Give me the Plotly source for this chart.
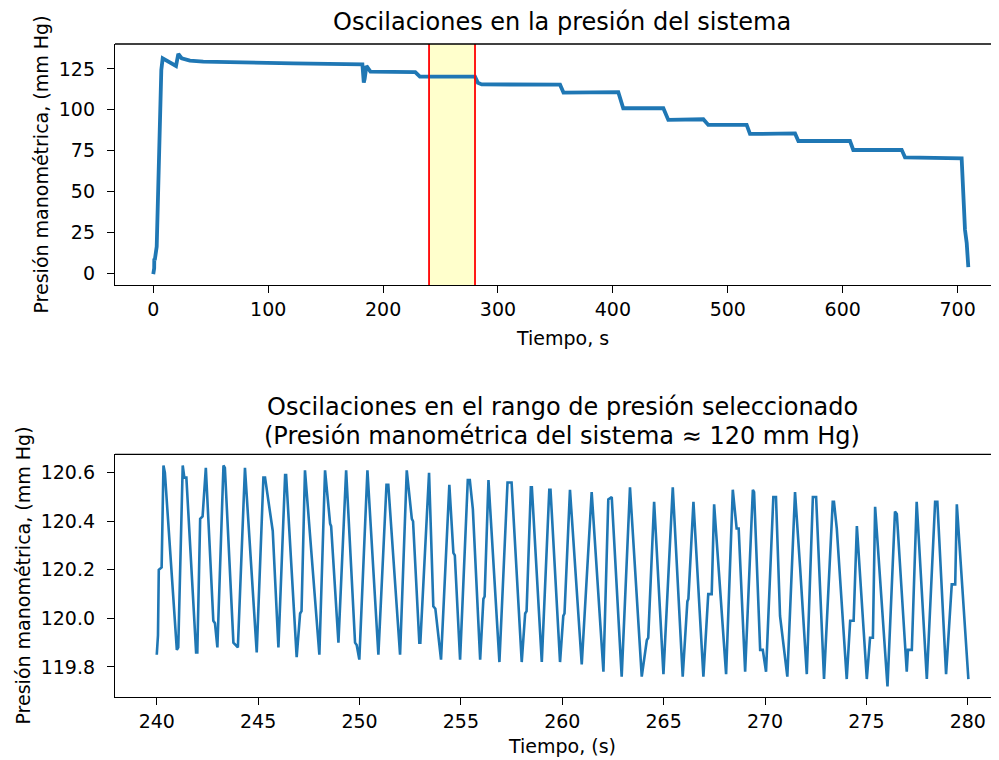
import plotly.graph_objects as go

# ---------------- top panel data: whole recording ----------------
sys_time = [0.0, 0.8, 0.9, 1.3, 3.0, 5.0, 5.8, 6.7, 7.0, 8.2,
            16.0, 19.8, 21.8, 24.7, 31.9, 43.5, 121.8, 180.0,
            182.0, 183.2, 184.0, 185.5, 187.0, 189.0, 228.0, 232.0,
            280.0, 282.5, 285.8, 354.0, 357.0, 404.7, 409.0, 443.9,
            448.2, 478.7, 483.0, 516.4, 519.3, 558.5, 561.4, 606.3,
            609.2, 651.3, 654.2, 703.5, 706.4, 707.9, 709.3]
sys_pres = [-0.5, 3.0, 9.0, 8.0, 16.3, 73.4, 97.9, 114.1, 124.3, 131.5,
            128.4, 126.8, 134.1, 131.5, 130.0, 129.4, 128.4, 128.0,
            127.8, 116.6, 119.0, 126.8, 125.0, 123.3, 123.0, 120.2,
            120.2, 116.5, 115.5, 115.3, 110.5, 110.8, 100.9, 100.9,
            93.8, 94.2, 90.7, 90.8, 85.2, 85.5, 80.9, 81.0,
            75.4, 75.5, 70.9, 70.3, 26.5, 18.5, 3.7]

# ---------------- bottom panel data: 240-280 s window ----------------
osc_time = [
    240.00, 240.06, 240.10, 240.24, 240.33, 240.40, 240.99, 241.06,
    241.28, 241.36, 241.46, 241.94, 242.00, 242.14, 242.26, 242.42,
    242.79, 242.87, 242.99, 243.29, 243.36, 243.78, 244.00, 244.35,
    244.93, 245.26, 245.34, 245.67, 245.72, 246.00, 246.33, 246.38,
    246.90, 247.07, 247.14, 247.31, 248.02, 248.30, 248.55, 248.60,
    248.96, 249.34, 249.78, 249.86, 249.99, 250.39, 250.93, 251.33,
    251.42, 252.00, 252.33, 252.58, 252.64, 252.95, 253.00, 253.43,
    253.64, 253.74, 254.02, 254.43, 254.63, 254.70, 254.96, 255.34,
    255.44, 255.59, 255.95, 256.11, 256.17, 256.36, 256.90, 257.30,
    257.50, 258.00, 258.17, 258.24, 258.45, 258.50, 258.99, 259.36,
    259.42, 259.89, 260.05, 260.11, 260.38, 260.96, 261.29, 261.45,
    262.03, 262.27, 262.44, 262.93, 263.34, 263.92, 264.17, 264.24,
    264.53, 264.99, 265.45, 265.94, 266.17, 266.22, 266.47, 266.96,
    267.20, 267.37, 267.49, 268.08, 268.41, 268.60, 268.70, 269.02,
    269.40, 269.46, 269.76, 269.89, 270.05, 270.41, 270.54, 270.74,
    271.10, 271.48, 271.73, 272.06, 272.36, 272.52, 272.91, 273.34,
    273.40, 273.54, 274.03, 274.20, 274.37, 274.53, 275.02, 275.18,
    275.32, 275.43, 276.04, 276.41, 276.50, 276.99, 277.05, 277.24,
    277.48, 277.98, 278.39, 278.50, 278.93, 279.21, 279.38, 279.46,
    280.03]
osc_pres = [
    119.85, 119.93, 120.20, 120.21, 120.63, 120.60, 119.87, 119.88,
    120.63, 120.58, 120.58, 119.86, 119.86, 120.41, 120.42, 120.62,
    119.99, 119.98, 119.88, 120.63, 120.62, 119.90, 119.88, 120.62,
    119.86, 120.58, 120.58, 120.37, 120.36, 119.88, 120.59, 120.59,
    119.84, 120.02, 120.03, 120.61, 119.85, 120.61, 120.39, 120.38,
    119.90, 120.61, 119.90, 119.89, 119.83, 120.61, 119.85, 120.55,
    120.55, 119.85, 120.61, 120.41, 120.40, 119.90, 119.90, 120.60,
    120.05, 120.04, 119.83, 120.55, 120.27, 120.26, 119.83, 120.57,
    120.57, 120.45, 119.83, 120.08, 120.09, 120.57, 119.82, 120.56,
    120.56, 119.82, 120.02, 120.03, 120.54, 120.54, 119.82, 120.53,
    120.53, 119.82, 120.01, 120.02, 120.53, 119.81, 120.26, 120.52,
    119.78, 120.49, 120.50, 119.76, 120.54, 119.76, 119.91, 119.92,
    120.48, 119.77, 120.54, 119.76, 120.07, 120.08, 120.48, 119.76,
    120.10, 120.10, 120.47, 119.77, 120.53, 120.37, 120.37, 119.78,
    120.53, 120.52, 119.87, 119.87, 119.78, 120.50, 120.50, 120.01,
    119.76, 120.52, 120.21, 119.77, 120.50, 120.50, 119.75, 120.48,
    120.48, 120.37, 119.75, 119.99, 119.99, 120.38, 119.75, 119.92,
    119.92, 120.46, 119.72, 120.44, 120.43, 119.78, 119.87, 119.87,
    120.48, 119.75, 120.48, 120.48, 119.77, 120.14, 120.14, 120.47,
    119.75]

top_xticks = [0, 100, 200, 300, 400, 500, 600, 700]
top_yticks = [0, 25, 50, 75, 100, 125]
bot_xticks = [240, 245, 250, 255, 260, 265, 270, 275, 280]
bot_yticks = [119.8, 120.0, 120.2, 120.4, 120.6]
sel_start, sel_end = 240, 280

title_top = "Oscilaciones en la presión del sistema"
title_bot1 = "Oscilaciones en el rango de presión seleccionado"
title_bot2 = "(Presión manométrica del sistema ≈ 120 mm Hg)"
ylabel = "Presión manométrica, (mm Hg)"
xlabel_top = "Tiempo, s"
xlabel_bot = "Tiempo, (s)"

FONT = "DejaVu Sans"
TICK = 19
LBL = 19
TTL = 24
BLUE = "#1f77b4"

# page body has an 8 px margin: figure spans page x 8..999, y 8..760
W, H = 991, 752
ML, MT, MB = 107, 36, 63      # plot area: page x 115..999, y 44..697
PH = H - MT - MB              # 653
PW = W - ML                   # 884

def px_x(page_x):
    return (page_x - 115) / PW

def px_y(page_y):
    return (697 - page_y) / PH

fig = go.Figure()
fig.add_trace(go.Scatter(x=sys_time, y=sys_pres, mode="lines",
                         line=dict(color=BLUE, width=3.8), xaxis="x", yaxis="y"))
fig.add_trace(go.Scatter(x=osc_time, y=osc_pres, mode="lines",
                         line=dict(color=BLUE, width=2.6), xaxis="x2", yaxis="y2"))

axis_common = dict(showgrid=False, zeroline=False, showline=True, linecolor="black",
                   linewidth=1.3, ticks="outside", ticklen=7, tickwidth=1.3,
                   tickcolor="black", automargin=False,
                   tickfont=dict(family=FONT, size=TICK, color="black"))

fig.update_layout(
    width=W, height=H,
    margin=dict(l=ML, r=0, t=MT, b=MB, pad=0),
    paper_bgcolor="white", plot_bgcolor="white",
    showlegend=False,
    xaxis=dict(domain=[0, 1], anchor="y", range=[-33.3, 736], tickvals=top_xticks, **axis_common),
    yaxis=dict(domain=[px_y(285), 1], anchor="x", range=[-7.16, 140.2], tickvals=top_yticks,
               ticklabelstandoff=8, **axis_common),
    xaxis2=dict(domain=[0, 1], anchor="y2", range=[237.94, 281.54], tickvals=bot_xticks, **axis_common),
    yaxis2=dict(domain=[0, px_y(454.3)], anchor="x2", range=[119.676, 120.676], tickvals=bot_yticks,
                tickformat=".1f", ticklabelstandoff=8, **axis_common),
)

shapes = [
    dict(type="rect", xref="x", yref="y domain", x0=sel_start, x1=sel_end, y0=0, y1=1,
         fillcolor="rgba(255,255,0,0.2)", line=dict(width=0), layer="below"),
    dict(type="line", xref="x", yref="y domain", x0=sel_start, x1=sel_start, y0=0, y1=1,
         line=dict(color="red", width=1.8)),
    dict(type="line", xref="x", yref="y domain", x0=sel_end, x1=sel_end, y0=0, y1=1,
         line=dict(color="red", width=1.8)),
    dict(type="line", xref="x domain", yref="y domain", x0=0, x1=1, y0=1, y1=1,
         line=dict(color="black", width=1.3)),
    dict(type="line", xref="x2 domain", yref="y2 domain", x0=0, x1=1, y0=1, y1=1,
         line=dict(color="black", width=1.3)),
]
fig.update_layout(shapes=shapes)

def ann(text, x, y, size, angle=0):
    return dict(text=text, x=x, y=y, xref="paper", yref="paper", showarrow=False,
                xanchor="center", yanchor="middle", textangle=angle,
                font=dict(family=FONT, size=size, color="black"))

cx = px_x(562)
fig.update_layout(annotations=[
    ann(title_top, cx, px_y(22), TTL),
    ann(xlabel_top, cx, px_y(338), LBL),
    ann(ylabel, px_x(40), px_y(164.5), LBL, -90),
    ann(title_bot1, cx, px_y(407), TTL),
    ann(title_bot2, cx, px_y(436), TTL),
    ann(xlabel_bot, cx, px_y(746), LBL),
    ann(ylabel, px_x(22), px_y(575.5), LBL, -90),
])

fig.write_html("out.html")
